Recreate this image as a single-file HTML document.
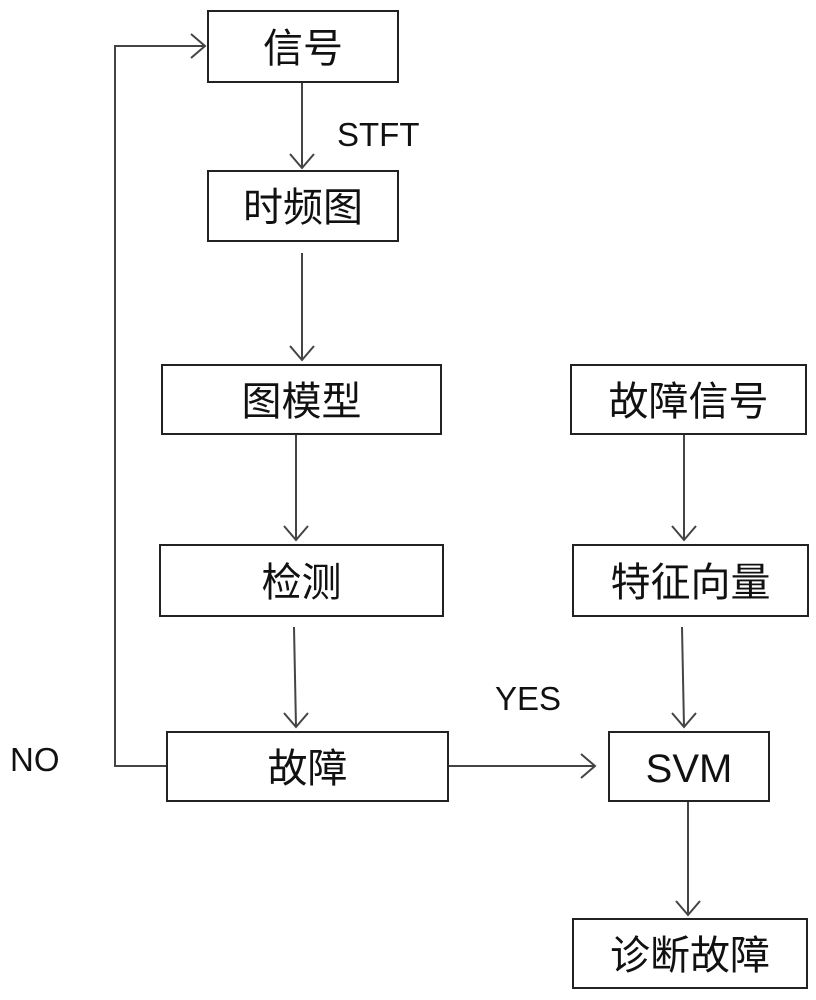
<!DOCTYPE html>
<html><head><meta charset="utf-8"><style>
body{margin:0;background:#fff;width:816px;height:1000px;overflow:hidden;position:relative;font-family:"Liberation Sans","Noto Sans CJK SC",sans-serif}
.b{position:absolute;border:2px solid #222;box-sizing:border-box;display:flex;align-items:center;justify-content:center;font-size:40px;color:#111;background:#fff;line-height:1;padding-top:4px}
.t{position:absolute;font-size:33px;color:#111;line-height:1}
svg{position:absolute;left:0;top:0}
</style></head><body>
<svg width="816" height="1000" stroke="#444" stroke-width="2" fill="none">
<path d="M302 83V168M290 154L302 168L314 154"/>
<path d="M302 253V360M290 346L302 360L314 346"/>
<path d="M296 435V540M284 526L296 540L308 526"/>
<path d="M294 627L296 727M284 713L296 727L308 713"/>
<path d="M684 435V540M672 526L684 540L696 526"/>
<path d="M682 627L684 727M672 713L684 727L696 713"/>
<path d="M688 802V915M676 901L688 915L700 901"/>
<path d="M449 766H595M581 754L595 766L581 778"/>
<path d="M166 766H115V46H205M191 34L205 46L191 58"/>
</svg>
<div class="b" style="left:207px;top:10px;width:192px;height:73px">信号</div>
<div class="b" style="left:207px;top:170px;width:192px;height:72px">时频图</div>
<div class="b" style="left:161px;top:364px;width:281px;height:71px">图模型</div>
<div class="b" style="left:159px;top:544px;width:285px;height:73px">检测</div>
<div class="b" style="left:166px;top:731px;width:283px;height:71px">故障</div>
<div class="b" style="left:570px;top:364px;width:237px;height:71px">故障信号</div>
<div class="b" style="left:572px;top:544px;width:237px;height:73px">特征向量</div>
<div class="b" style="left:608px;top:731px;width:162px;height:71px">SVM</div>
<div class="b" style="left:572px;top:918px;width:236px;height:71px">诊断故障</div>
<div class="t" style="left:337px;top:118px">STFT</div>
<div class="t" style="left:495px;top:682px">YES</div>
<div class="t" style="left:10px;top:743px">NO</div>
</body></html>
